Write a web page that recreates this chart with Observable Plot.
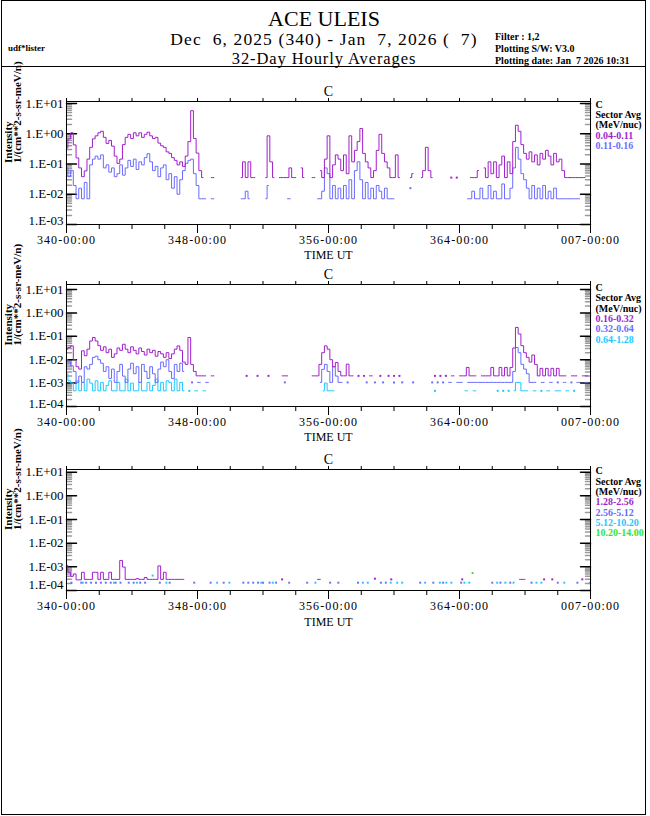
<!DOCTYPE html>
<html><head><meta charset="utf-8">
<script src="https://cdn.jsdelivr.net/npm/d3@7"></script>
<script src="https://cdn.jsdelivr.net/npm/@observablehq/plot@0.6"></script>
<style>
body{margin:0;background:#fff;}
#page{position:relative;width:650px;height:816px;overflow:hidden;background:#fff;font-family:"Liberation Serif",serif;}
.t{position:absolute;white-space:pre;color:#000;line-height:1;}
.c{transform:translate(-50%,-50%);}
.l{transform:translate(0,-50%);}
g[aria-label="x-axis tick label"] text{letter-spacing:1.1px;}
</style></head><body><div id="page"></div>
<script>
const _ = null;
// ---- data (log10 of intensity, 1/(cm**2-s-sr-meV/n)), 4-hour bins starting 340-00:00 ----
const BIN_HOURS = 4;
const DAY0 = 340;
const xMajorDays = [0, 8, 16, 24, 32];
const xMinorDays = [2, 4, 6, 10, 12, 14, 18, 20, 22, 26, 28, 30];
const xTopDays = [0, 2, 4, 6, 8, 10, 12, 14, 16, 18, 20, 22, 24, 26, 28, 30, 32];

const panel1Legend = ["C", "Sector Avg", "(MeV/nuc)", "0.04-0.11", "0.11-0.16"];
const panel2Legend = ["C", "Sector Avg", "(MeV/nuc)", "0.16-0.32", "0.32-0.64", "0.64-1.28"];
const panel3Legend = ["C", "Sector Avg", "(MeV/nuc)", "1.28-2.56", "2.56-5.12", "5.12-10.20", "10.20-14.00"];
const seriesColors = ["#a21fcc", "#6b6bff", "#1ec8ff", "#2ee82e"];

const c1Purple = [
-0.47,-0.17,0.03,-0.37,-0.8,-1.13,
-1.42,-1.23,-0.84,-0.45,-0.17,-0.07,
0.03,0.08,-0.12,-0.32,-0.22,-0.41,
-0.74,-0.98,-0.84,-0.36,-0.12,-0.02,
-0.16,0.03,-0.07,0.03,-0.12,-0.02,
0.05,-0.07,-0.16,-0.12,-0.31,-0.4,
-0.45,-0.6,-0.65,-0.79,-0.88,-1.03,
-0.93,-1.08,-0.74,-0.26,0.76,-0.16,
-0.64,-1.22,-1.45,_,_,-1.45,
-1.45,_,_,_,_,_,
_,_,_,_,-1.45,-0.93,
-1.45,-0.93,-1.45,-1.45,_,_,
_,-1.45,-0.07,-0.93,-1.45,_,
-1.45,-1.45,-1.45,-1.45,-1.13,-1.45,
-1.45,_,-1.13,-1.45,_,_,
-1.45,-1.45,_,-1.22,-1.45,-0.84,
-0.07,-1.45,-1.03,-0.7,-0.84,-1.22,
-0.7,-1.32,-0.07,-0.93,-0.55,-0.26,
0.17,-0.65,-0.93,-1.13,-1.45,-1.22,
-0.55,-0.02,-0.65,-0.93,-1.13,-1.45,
-1.45,-0.7,-1.45,_,_,_,
-1.45,-1.32,_,_,-1.45,-1.22,
-0.45,-1.22,-1.45,_,_,_,
_,_,_,-1.45,_,-1.45,
_,_,_,_,-1.45,-1.45,
-1.45,-1.22,_,-1.13,-1.45,-0.93,
-1.32,-0.93,-1.45,-1.03,-0.74,-1.45,
-0.93,-1.32,-0.26,0.28,0.08,-0.36,
-0.65,-0.84,-0.6,-0.93,-0.7,-1.03,
-0.65,-0.84,-0.55,-0.74,-1.03,-0.65,
-0.93,-0.84,-1.22,-1.45,-1.45,-1.45,
-1.45,-1.45,-1.45,-1.45,-1.45,_];

const c1Blue = [
-1.13,-1.42,-1.22,-1.71,-2.15,-1.8,
-2.15,-1.61,-2.15,-1.03,-0.84,-0.74,
-0.84,-0.7,-1.13,-1.03,-1.27,-1.13,
-1.42,-1.32,-1.03,-1.37,-1.13,-0.88,
-1.08,-0.84,-1.18,-0.93,-1.03,-0.79,
-0.66,-0.93,-1.22,-1.08,-1.42,-1.13,
-1.03,-1.52,-1.32,-1.8,-1.42,-2.0,
-1.52,-1.22,-0.98,-0.88,-0.84,-1.32,
-1.71,-2.15,-2.15,-2.15,_,-2.15,
-2.15,_,_,_,_,_,
_,_,_,_,-2.15,-2.15,
-1.9,-2.15,_,_,_,_,
_,-2.15,-1.71,_,_,_,
_,_,_,-2.15,-2.15,_,
_,_,_,_,_,_,
_,_,-2.15,-2.15,-1.9,-1.13,
-1.32,-2.15,-1.71,-2.15,-1.8,-2.15,
-1.71,-2.15,-1.52,-2.15,-1.22,-0.93,
-1.52,-2.15,-1.61,-2.15,-1.8,-2.15,
-1.71,-1.9,-2.15,-1.8,-2.15,-2.15,
-2.15,_,_,_,_,_,
-1.8,_,_,_,_,_,
_,_,_,_,_,_,
_,_,_,_,_,_,
_,_,_,-2.15,-2.15,-1.9,
-2.15,-2.15,-1.8,-2.15,-2.15,-1.71,
-2.15,-1.9,-2.15,-2.15,-1.66,-2.15,
-2.15,-1.8,-1.13,-0.45,-0.84,-1.32,
-1.52,-1.8,-2.15,-1.71,-2.15,-1.8,
-2.15,-1.71,-2.15,-1.9,-2.15,-1.8,
-2.15,-2.15,-2.15,-2.15,-2.15,-2.15,
-2.15,-2.15,-2.15,_,_,_];

const c2Purple = [
-1.55,-1.48,-1.41,-2.0,-2.3,-2.4,
-1.62,-1.83,-1.55,-1.2,-1.05,-1.2,
-1.4,-1.6,-1.45,-1.7,-1.55,-1.9,
-1.75,-1.5,-1.6,-1.34,-1.55,-1.7,
-1.45,-1.6,-1.75,-1.5,-1.65,-1.8,
-1.55,-1.7,-1.6,-1.85,-1.65,-1.75,
-1.9,-1.7,-1.95,-1.75,-1.55,-1.41,
-1.6,-2.1,-2.2,-1.05,-2.2,-2.5,
-2.69,-2.69,-2.69,-2.69,_,-2.69,
-2.69,_,_,_,_,_,
_,_,_,_,_,_,
-2.69,_,_,_,-2.69,_,
_,_,-2.69,_,_,_,
_,-2.69,-2.69,-2.69,_,_,
_,_,_,_,_,_,
-2.69,-2.69,-2.69,-2.2,-1.7,-1.41,
-1.55,-2.0,-2.3,-2.12,-2.5,-2.69,
-2.69,-2.19,-2.69,-2.69,_,-2.69,
_,-2.69,_,-2.69,-2.69,_,
_,-2.69,_,_,-2.69,_,
-2.69,_,-2.69,_,_,_,
_,_,_,_,_,_,
_,_,_,-2.69,_,-2.69,
_,-2.69,_,-2.69,-2.69,_,
-2.69,-2.69,-2.69,-2.33,-2.69,-2.69,
-2.69,_,-2.69,-2.69,-2.69,-2.69,
-2.33,-2.69,-2.69,-2.33,-2.69,-2.33,
-2.69,-2.33,-1.5,-0.62,-0.9,-1.4,
-1.7,-1.9,-2.1,-1.8,-2.2,-2.69,
-2.37,-2.69,-2.37,-2.69,-2.37,-2.69,
-2.37,-2.69,-2.69,-2.69,_,-2.69,
-2.69,-2.69,_,-2.69,-2.69,-2.69];

const c2Blue = [
-2.0,-2.1,-2.26,-2.5,-2.97,-2.7,
-2.97,-2.3,-2.4,-2.2,-1.9,-1.85,
-2.0,-2.15,-2.5,-2.3,-2.8,-2.4,
-2.97,-2.5,-2.2,-2.7,-2.97,-2.4,
-2.15,-2.6,-2.3,-2.97,-2.2,-2.5,
-2.8,-2.3,-2.6,-2.97,-2.4,-2.1,
-2.3,-2.0,-2.5,-2.8,-2.2,-2.5,
-2.15,-2.5,_,_,-2.97,_,
-2.97,-2.97,_,-2.97,-2.97,_,
_,_,_,_,_,_,
_,_,_,_,_,_,
_,_,_,_,_,_,
_,_,_,_,_,_,
_,_,-2.97,_,_,_,
_,_,_,_,_,_,
_,_,_,-2.97,-2.41,-2.2,
-2.5,-2.97,-2.3,-2.7,-2.97,-2.97,
_,-2.97,_,_,_,_,
_,_,-2.97,_,_,-2.97,
_,_,-2.97,_,_,_,
-2.97,_,_,-2.97,_,_,
_,-2.97,_,_,_,_,
_,_,-2.97,_,-2.97,_,
-2.97,_,-2.97,-2.97,_,-2.97,
-2.97,-2.97,_,-2.97,-2.97,-2.97,
-2.97,-2.97,-2.97,-2.97,-2.97,-2.97,
-2.97,-2.97,-2.97,-2.97,-2.97,-2.97,
-2.97,-2.97,-2.5,-1.48,-1.7,-2.2,
-2.4,-2.6,-2.97,-2.97,-2.97,_,
-2.97,-2.97,_,-2.97,-2.97,_,
-2.97,_,-2.97,-2.97,_,-2.97,
_,-2.97,-2.97,_,-2.97,-2.97];

const c2Cyan = [
-2.6,-2.9,-3.0,-3.33,-2.9,-3.33,
-2.97,-3.33,-2.83,-3.0,-3.33,-2.9,
-3.33,-2.97,-3.33,-3.1,-2.9,-3.33,
-3.33,-2.97,-3.33,-3.33,-2.83,-3.33,
-3.0,-3.33,-3.33,-2.97,-3.33,-3.33,
-2.97,-3.33,-3.1,-2.83,-3.33,-2.97,
-3.33,-2.9,-2.97,-3.33,-2.83,-3.33,
-2.97,-3.33,_,-3.33,_,-3.33,
-3.33,_,-3.33,-3.33,_,_,
_,_,_,_,_,_,
_,_,_,_,_,_,
_,_,_,_,_,_,
_,_,_,_,_,_,
_,_,_,_,_,_,
_,_,_,_,_,_,
_,_,_,_,-3.33,-3.0,
-3.33,-3.33,-3.33,_,_,_,
_,_,_,_,_,_,
_,_,_,_,_,_,
_,_,_,_,_,_,
_,_,_,_,_,_,
_,_,_,_,_,_,
_,_,_,-3.33,_,_,
_,_,_,_,_,_,
_,_,-3.33,-3.33,_,-3.33,
-3.33,_,_,_,_,_,
_,_,-3.33,_,-3.33,_,
-3.33,_,-3.33,-2.97,-2.97,-3.33,
-3.33,-3.33,_,-3.33,-3.33,_,
-3.33,_,-3.33,-3.33,_,-3.33,
-3.33,-3.33,_,-3.33,-3.33,_,
-3.33,_,_,_,_,_];

const c3Purple = [
-2.94,-3.23,-3.4,-3.3,-3.55,-3.55,
-3.23,-3.53,-3.53,-3.53,-3.23,-3.23,
-3.53,-3.23,-3.53,-3.53,-3.23,-3.53,
-3.53,-3.53,-2.73,-3.01,-3.53,-3.53,
-3.53,-3.53,-3.5,-3.53,-3.53,-3.45,
-3.53,-3.53,-3.53,-3.53,-2.96,-3.53,
-3.23,-3.53,-3.53,-3.53,-3.53,-3.53,
-3.53,-3.53,_,_,_,_,
_,_,_,_,_,_,
_,_,_,_,_,_,
_,_,_,_,_,_,
_,_,_,_,_,_,
_,_,_,_,_,_,
_,-3.53,_,_,_,_,
_,_,_,_,_,_,
_,_,-3.53,-3.53,_,_,
_,_,_,_,_,_,
_,_,_,_,_,_,
_,_,_,_,_,-3.5,
_,_,_,_,_,-3.53,
_,_,_,_,_,_,
_,_,_,_,_,_,
_,_,_,_,_,_,
_,_,_,_,_,_,
_,-3.53,_,_,_,_,
_,_,_,_,_,_,
_,_,_,_,_,_,
_,_,_,_,-3.53,-3.53,
-3.53,_,_,_,_,_,
_,-3.53,_,_,-3.53,_,
_,_,_,_,_,_,
_,_,_,-3.53,_,_];

// sparse points [day offset, log10 intensity]
const c3Blue = [[0.3,-3.67],[0.9,-3.67],[1.2,-3.67],[1.5,-3.67],[1.8,-3.67],[2.1,-3.67],[2.4,-3.67],[2.7,-3.67],[3.0,-3.67],[3.3,-3.67],[3.8,-3.67],[4.1,-3.67],[4.5,-3.67],[4.8,-3.67],[5.7,-3.67],[6.3,-3.67],[7.8,-3.67],[8.8,-3.67],[9.6,-3.67],[10.8,-3.67],[11.1,-3.67],[11.4,-3.67],[11.7,-3.67],[12.0,-3.67],[12.4,-3.67],[12.8,-3.67],[13.6,-3.67],[14.7,-3.67],[16.1,-3.67],[16.6,-3.67],[17.8,-3.67],[19.2,-3.67],[19.5,-3.67],[21.6,-3.67],[22.4,-3.67],[23.0,-3.67],[24.1,-3.67],[26.0,-3.67],[26.5,-3.67],[27.1,-3.67],[28.4,-3.67],[30.0,-3.67],[31.2,-3.67]];
const c3Cyan = [[1.0,-3.67],[2.9,-3.67],[4.3,-3.67],[5.26,-3.37],[6.1,-3.67],[9.2,-3.67],[9.95,-3.67],[11.9,-3.67],[12.6,-3.67],[15.2,-3.67],[18.1,-3.67],[18.4,-3.67],[19.8,-3.67],[20.2,-3.67],[20.5,-3.67],[21.9,-3.67],[22.8,-3.67],[23.2,-3.67],[23.5,-3.67],[24.3,-3.67],[24.6,-3.67],[26.3,-3.67],[26.8,-3.67],[27.3,-3.67],[28.7,-3.67],[29.0,-3.67],[30.4,-3.67],[31.95,-3.67]];
const c3Green = [[24.8,-3.26]];

// ---- drawing ----
const page = document.getElementById("page");
const tickShape = {draw(ctx, l) { ctx.moveTo(0, 0); ctx.lineTo(0, -l); }};
const fmtE = d => { const e = Math.round(Math.log10(d)); return "1.E" + (e < 0 ? "-" : "+") + String(Math.abs(e)).padStart(2, "0"); };
const fmtDay = d => String((DAY0 - 1 + d) % 365 + 1).padStart(3, "0") + "-00:00";

function makePanel({top, marginTop, marginBottom, plotH, yDomain, decades, bottomDy, timeDy, dense, sparse, legend, legendDy}) {
  const lo = Math.log10(yDomain[0]), hi = Math.log10(yDomain[1]);
  const minors = [];
  for (let e = Math.floor(lo); e < hi; e++) for (let m = 2; m <= 9; m++) {
    const v = m * 10 ** e; if (v > yDomain[0] && v < yDomain[1]) minors.push(v);
  }
  const majors = decades.map(e => 10 ** e);
  const marks = [];
  marks.push(Plot.vector(minors, {y: d => d, frameAnchor: "left", rotate: 90, length: 5, anchor: "start", shape: tickShape, stroke: "#9a9a9a"}));
  marks.push(Plot.vector(minors, {y: d => d, frameAnchor: "right", rotate: -90, length: 5, anchor: "start", shape: tickShape, stroke: "#9a9a9a"}));
  marks.push(Plot.vector(majors, {y: d => d, frameAnchor: "left", rotate: 90, length: 10, anchor: "start", shape: tickShape, stroke: "#000"}));
  marks.push(Plot.vector(majors, {y: d => d, frameAnchor: "right", rotate: -90, length: 10, anchor: "start", shape: tickShape, stroke: "#000"}));
  for (const s of dense) {
    const data = s.values.map((v, i) => ({t: i * BIN_HOURS / 24, v: v == null ? NaN : 10 ** v}));
    marks.push(Plot.line(data, {x: "t", y: "v", curve: "step", stroke: s.color, strokeWidth: 1}));
    const iso = data.filter((d, i) => isFinite(d.v) && !(data[i - 1] && isFinite(data[i - 1].v)) && !(data[i + 1] && isFinite(data[i + 1].v)));
    marks.push(Plot.dot(iso, {x: "t", y: "v", r: 1.1, symbol: "square", fill: s.color, stroke: "none"}));
  }
  for (const s of sparse) {
    marks.push(Plot.dot(s.values, {x: d => d[0], y: d => 10 ** d[1], r: 1.1, symbol: "square", fill: s.color, stroke: "none"}));
  }
  marks.push(Plot.frame({stroke: "#000"}));
  marks.push(Plot.axisX({anchor: "bottom", ticks: xMajorDays, tickSize: 9, tickPadding: 2, tickFormat: fmtDay, fontSize: 12, label: null}));
  marks.push(Plot.axisX({anchor: "bottom", ticks: xMinorDays, tickSize: 5, tickFormat: () => "", label: null}));
  marks.push(Plot.axisX({anchor: "top", ticks: xTopDays, tickSize: 4, tickFormat: () => "", label: null}));
  marks.push(Plot.axisY({anchor: "left", ticks: majors.slice(0, -1), tickSize: 0, tickPadding: 3, tickFormat: fmtE, fontSize: 13, label: null}));
  marks.push(Plot.axisY({anchor: "left", ticks: majors.slice(-1), tickSize: 0, tickPadding: 3, tickFormat: fmtE, fontSize: 13, label: null, dy: bottomDy}));
  marks.push(Plot.text(["C"], {frameAnchor: "top", lineAnchor: "middle", dy: -10, fontSize: 14}));
  marks.push(Plot.text(["TIME UT"], {frameAnchor: "bottom", lineAnchor: "middle", dy: timeDy, fontSize: 12}));
  marks.push(Plot.text(["Intensity"], {frameAnchor: "left", dx: -58, rotate: -90, fontSize: 11, fontWeight: "bold"}));
  marks.push(Plot.text(["1/(cm**2-s-sr-meV/n)"], {frameAnchor: "left", dx: -49, rotate: -90, fontSize: 11, fontWeight: "bold"}));
  legend.forEach((s, i) => {
    marks.push(Plot.text([s], {frameAnchor: "top-right", lineAnchor: "middle", dx: 5, dy: legendDy + i * 10.3, textAnchor: "start", fontSize: 10, fontWeight: "bold", fill: i < 3 ? "#000" : seriesColors[i - 3]}));
  });
  const svg = Plot.plot({
    width: 650, height: marginTop + plotH + marginBottom,
    marginLeft: 66, marginRight: 60, marginTop, marginBottom,
    x: {domain: [0, 32]},
    y: {type: "log", domain: yDomain},
    style: {fontFamily: "'Liberation Serif', serif", fontSize: "13px", background: "none", overflow: "visible"},
    marks
  });
  svg.style.position = "absolute";
  svg.style.left = "0px";
  svg.style.top = top + "px";
  page.appendChild(svg);
}

makePanel({top: 80, marginTop: 21, marginBottom: 40, plotH: 123, yDomain: [1e-3, 11.6], decades: [1, 0, -1, -2, -3], bottomDy: -4, timeDy: 30.5,
  dense: [{values: c1Blue, color: seriesColors[1]}, {values: c1Purple, color: seriesColors[0]}], sparse: [],
  legend: panel1Legend, legendDy: 3});
makePanel({top: 264, marginTop: 20, marginBottom: 40, plotH: 122, yDomain: [1e-4, 16.4], decades: [1, 0, -1, -2, -3, -4], bottomDy: -3, timeDy: 30.5,
  dense: [{values: c2Cyan, color: seriesColors[2]}, {values: c2Blue, color: seriesColors[1]}, {values: c2Purple, color: seriesColors[0]}], sparse: [],
  legend: panel2Legend, legendDy: 3.3});
makePanel({top: 449, marginTop: 20, marginBottom: 42, plotH: 121, yDomain: [1e-4, 13], decades: [1, 0, -1, -2, -3, -4], bottomDy: -6, timeDy: 31.5,
  dense: [{values: c3Purple, color: seriesColors[0]}],
  sparse: [{values: c3Blue, color: seriesColors[1]}, {values: c3Cyan, color: seriesColors[2]}, {values: c3Green, color: seriesColors[3]}],
  legend: panel3Legend, legendDy: 1.7});

// ---- header ----
function txt(s, x, y, css, cls) {
  const d = document.createElement("div");
  d.className = "t " + cls; d.textContent = s;
  d.style.left = x + "px"; d.style.top = y + "px";
  Object.assign(d.style, css);
  page.appendChild(d);
}
txt("ACE ULEIS", 324, 19, {fontSize: "22px"}, "c");
txt("Dec  6, 2025 (340) - Jan  7, 2026 (  7)", 324, 40, {fontSize: "17.5px", letterSpacing: "1.1px"}, "c");
txt("32-Day Hourly Averages", 324, 58.5, {fontSize: "16.5px", letterSpacing: "0.9px"}, "c");
txt("udf*lister", 8, 48, {fontSize: "9px", fontWeight: "bold"}, "l");
txt("Filter : 1,2", 495, 37, {fontSize: "10px", fontWeight: "bold"}, "l");
txt("Plotting S/W: V3.0", 495, 49, {fontSize: "10px", fontWeight: "bold"}, "l");
txt("Plotting date: Jan  7 2026 10:31", 495, 61, {fontSize: "10px", fontWeight: "bold"}, "l");

// frame and separator
const cover = document.createElement("div");
Object.assign(cover.style, {position: "absolute", left: "646px", top: "0px", width: "4px", height: "816px", background: "#fff"});
page.appendChild(cover);
const frame = document.createElement("div");
Object.assign(frame.style, {position: "absolute", left: "1px", top: "0px", width: "643px", height: "813px", border: "1.5px solid #000", pointerEvents: "none"});
page.appendChild(frame);
const sep = document.createElement("div");
Object.assign(sep.style, {position: "absolute", left: "1px", top: "66px", width: "645px", height: "0px", borderTop: "1.5px solid #000"});
page.appendChild(sep);
</script></body></html>
